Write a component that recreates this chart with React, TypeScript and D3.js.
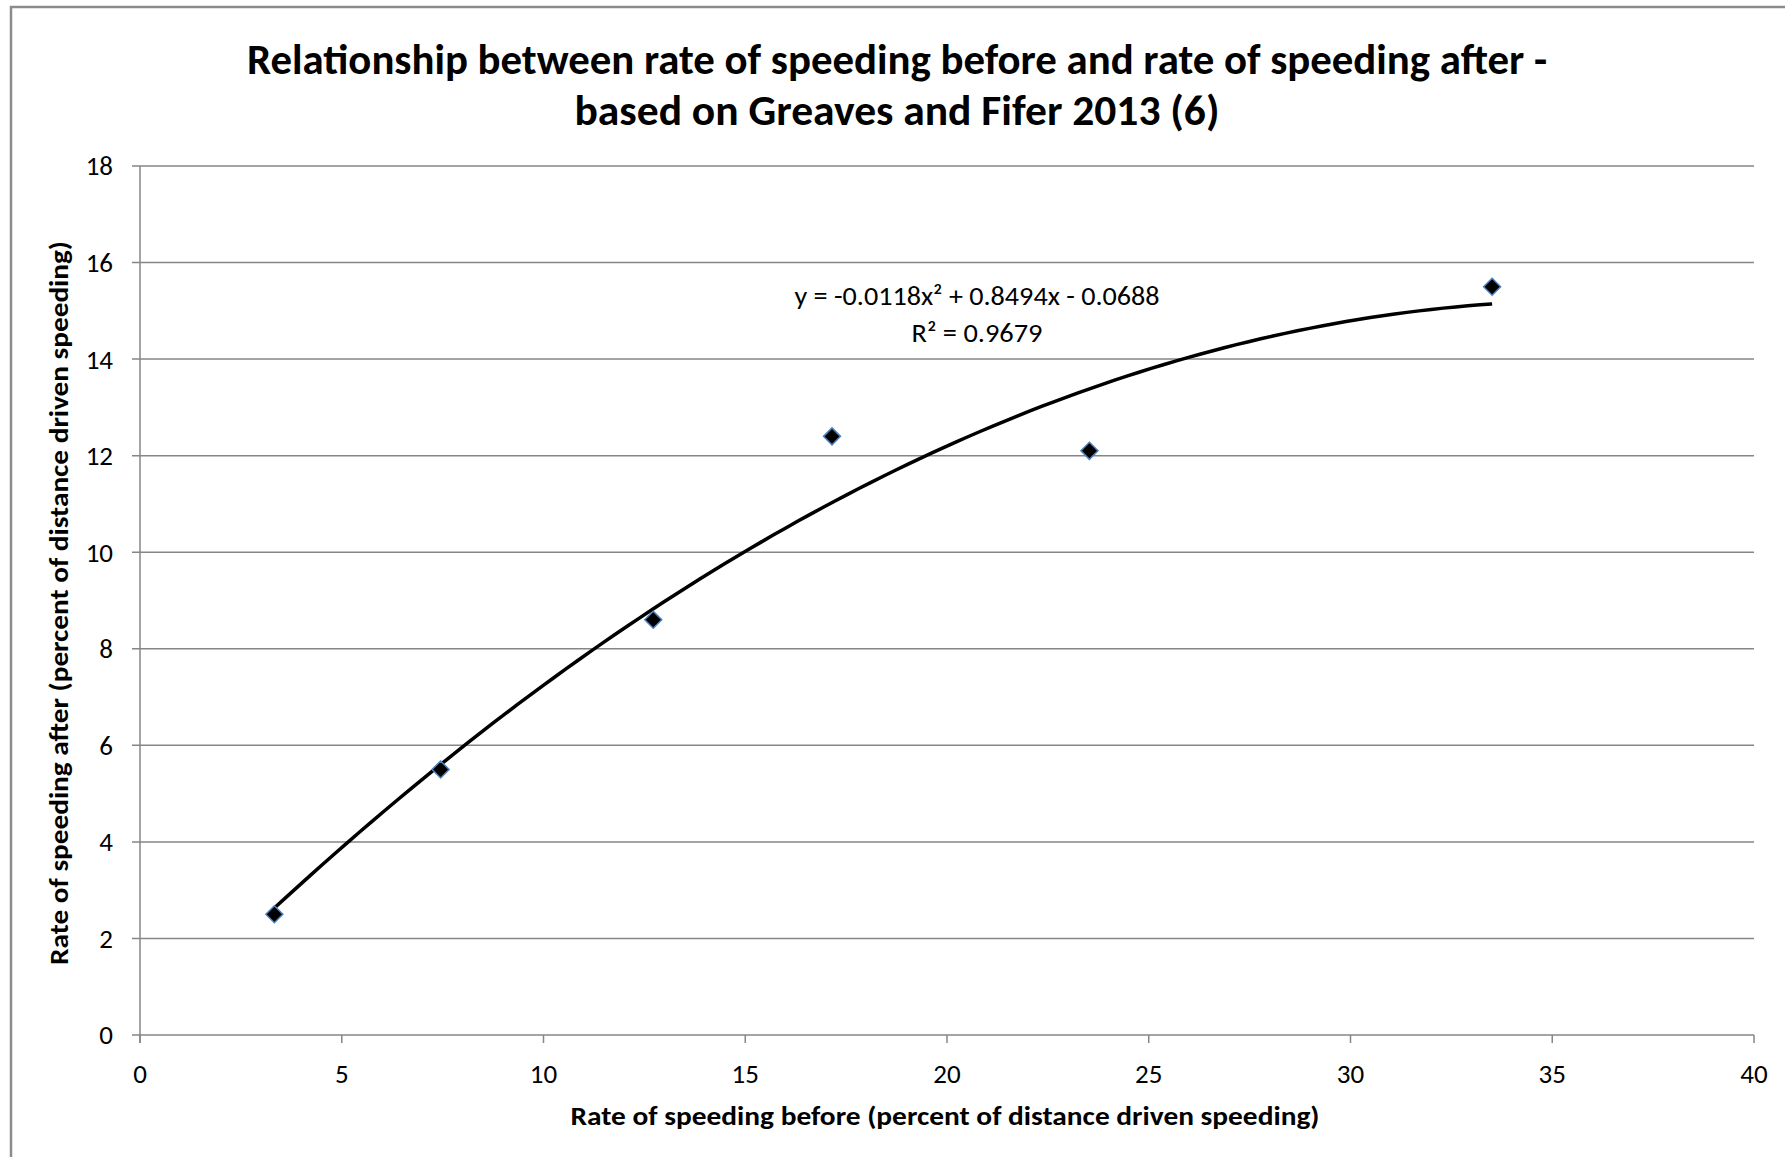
import React, { useEffect } from "react";
import * as d3 from "d3";

const titleLines = [
  "Relationship between rate of speeding before and rate of speeding after -",
  "based on Greaves and Fifer 2013 (6)",
];
const xLabel = "Rate of speeding before (percent of distance driven speeding)";
const yLabel = "Rate of speeding after (percent of distance driven speeding)";

const speedingBefore = [3.33, 7.45, 12.72, 17.15, 23.53, 33.51];
const speedingAfter = [2.5, 5.5, 8.6, 12.4, 12.1, 15.5];

// trendline coefficients as displayed: y = a x^2 + b x + c
const trendCoefficients = [-0.0118, 0.8494, -0.0688];
const equationLines = ["y = -0.0118x² + 0.8494x  - 0.0688", "R² = 0.9679"];

const xTicks = [0, 5, 10, 15, 20, 25, 30, 35, 40];
const yTicks = [0, 2, 4, 6, 8, 10, 12, 14, 16, 18];

const W = 1785;
const H = 1157;
const plot = { left: 140, right: 1754, top: 166, bottom: 1035 };
const FONT = "Carlito, Calibri, 'Liberation Sans Narrow', 'Liberation Sans', Arial, sans-serif";
const GRID = "#868686";

export default function App() {
  useEffect(() => {
    document.body.style.margin = "0";
  }, []);

  const x = d3.scaleLinear().domain([0, 40]).range([plot.left, plot.right]);
  const y = d3.scaleLinear().domain([0, 18]).range([plot.bottom, plot.top]);

  const [a, b, c] = trendCoefficients;
  const xMin = d3.min(speedingBefore) as number;
  const xMax = d3.max(speedingBefore) as number;
  const trendPts: [number, number][] = d3.range(0, 101).map((i) => {
    const xv = xMin + ((xMax - xMin) * i) / 100;
    return [xv, a * xv * xv + b * xv + c];
  });
  const line = d3
    .line<[number, number]>()
    .x((d) => x(d[0]))
    .y((d) => y(d[1]))
    .curve(d3.curveMonotoneX);

  const diamond = (cx: number, cy: number, r: number) =>
    `M${cx},${cy - r}L${cx + r},${cy}L${cx},${cy + r}L${cx - r},${cy}Z`;

  return (
    <svg width={W} height={H} style={{ display: "block" }} fontFamily={FONT}>
      <rect x={0} y={0} width={W} height={H} fill="#fff" />
      <rect x={11} y={7} width={1800} height={1200} fill="none" stroke="#8c8c8c" strokeWidth={2.5} />

      {titleLines.map((t, i) => (
        <text
          key={i}
          x={(plot.left + plot.right) / 2 - 50}
          y={74 + i * 51}
          textAnchor="middle"
          fontWeight="bold"
          fontSize={43}
          textLength={i === 0 ? 1300 : 645}
          lengthAdjust="spacingAndGlyphs"
          fill="#000"
        >
          {t}
        </text>
      ))}

      {yTicks.map((t) => (
        <line
          key={"g" + t}
          x1={plot.left - 8}
          x2={plot.right}
          y1={y(t)}
          y2={y(t)}
          stroke={GRID}
          strokeWidth={1.5}
        />
      ))}
      <line x1={plot.left} x2={plot.left} y1={plot.top} y2={plot.bottom + 8} stroke={GRID} strokeWidth={1.5} />
      {xTicks.map((t) => (
        <line
          key={"xt" + t}
          x1={x(t)}
          x2={x(t)}
          y1={plot.bottom}
          y2={plot.bottom + 8}
          stroke={GRID}
          strokeWidth={1.5}
        />
      ))}
      {yTicks.map((t) => (
        <text key={"yl" + t} x={113} y={y(t)} dy="0.35em" textAnchor="end" fontSize={27} fill="#000">
          {t}
        </text>
      ))}
      {xTicks.map((t) => (
        <text key={"xl" + t} x={x(t)} y={1074} dy="0.35em" textAnchor="middle" fontSize={27} fill="#000">
          {t}
        </text>
      ))}

      <text
        x={945}
        y={1116}
        dy="0.35em"
        textAnchor="middle"
        fontWeight="bold"
        fontSize={26}
        textLength={749}
        lengthAdjust="spacingAndGlyphs"
      >
        {xLabel}
      </text>
      <text
        transform={`translate(59,603) rotate(-90)`}
        dy="0.35em"
        textAnchor="middle"
        fontWeight="bold"
        fontSize={26}
        textLength={724}
        lengthAdjust="spacingAndGlyphs"
      >
        {yLabel}
      </text>

      <path d={line(trendPts) || ""} fill="none" stroke="#000" strokeWidth={3.5} />

      {speedingBefore.map((xv, i) => (
        <path
          key={"p" + i}
          d={diamond(x(xv), y(speedingAfter[i]), 8.5)}
          fill="#000"
          stroke="#4f81bd"
          strokeWidth={1.5}
        />
      ))}

      {equationLines.map((t, i) => (
        <text
          key={"eq" + i}
          x={977}
          y={296 + i * 37}
          dy="0.35em"
          textAnchor="middle"
          fontSize={27}
          textLength={i === 0 ? 365 : 131}
          lengthAdjust="spacingAndGlyphs"
          fill="#000"
        >
          {t}
        </text>
      ))}
    </svg>
  );
}
